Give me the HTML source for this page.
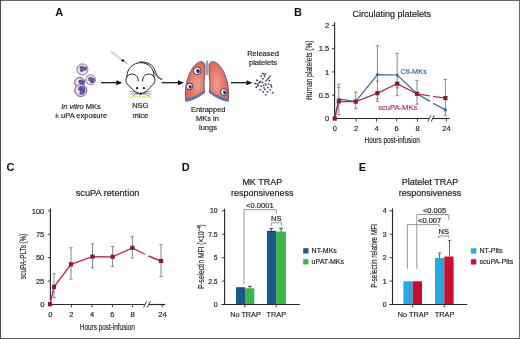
<!DOCTYPE html>
<html><head><meta charset="utf-8">
<style>
html,body{margin:0;padding:0;background:#fff;width:520px;height:339px;overflow:hidden}
svg{display:block;will-change:transform;font-family:"Liberation Sans",sans-serif}
</style></head><body>
<svg width="520" height="339" viewBox="0 0 520 339">
<rect x="0" y="0" width="520" height="339" fill="#fff"/>
<!-- frame -->
<rect x="0" y="0" width="520" height="1" fill="#666"/>
<rect x="0" y="338" width="520" height="1" fill="#555"/>
<rect x="0" y="0" width="1" height="339" fill="#4c4c4c"/>
<rect x="519" y="0" width="1" height="339" fill="#6a6a6a"/>

<!-- panel letters -->
<g font-weight="bold" font-size="11" fill="#111">
<text x="55.2" y="15.5">A</text>
<text x="294" y="15.5">B</text>
<text x="6.6" y="171.1">C</text>
<text x="181.7" y="171">D</text>
<text x="358.7" y="171">E</text>
</g>

<!-- ============ PANEL A ============ -->
<g id="A">
<!-- cells -->
<defs>
<radialGradient id="cg" cx="0.5" cy="0.5" r="0.5">
<stop offset="0" stop-color="#f6f1f8"/><stop offset="0.65" stop-color="#eee5f3"/><stop offset="1" stop-color="#d6c4e2"/>
</radialGradient>
<radialGradient id="lg" cx="0.62" cy="0.55" r="0.55">
<stop offset="0" stop-color="#eea58e"/><stop offset="0.45" stop-color="#ec8272"/><stop offset="1" stop-color="#e6645a"/>
</radialGradient>
<radialGradient id="lg2" cx="0.38" cy="0.55" r="0.55">
<stop offset="0" stop-color="#eea58e"/><stop offset="0.45" stop-color="#ec8272"/><stop offset="1" stop-color="#e6645a"/>
</radialGradient>
</defs>
<g stroke="#5e3f7e" stroke-width="0.6" fill="url(#cg)">
<circle cx="82.4" cy="69.4" r="5.6"/>
<circle cx="90.6" cy="79.8" r="5"/>
<circle cx="79.7" cy="82.4" r="5"/>
<circle cx="80.8" cy="90.4" r="6"/>
</g>
<g fill="#5e4a8e">
<g transform="translate(-0.8 -0.3)"><path d="M80.3 67.6C81.3 65.9 84 65.8 85 67.3C86.5 66.6 88.2 67.9 87.6 69.6C87.1 71.1 85.6 71.2 84.6 70.6C84.1 72.4 82 72.9 81 71.6C80.5 70.8 81.5 69.9 81 69.1C80.1 68.9 80 68.2 80.3 67.6Z"/></g>
<path d="M88.6 77.8C89.6 76.6 91.5 76.7 92.2 77.8C93.6 77.6 95 78.8 94.6 80.4C94.3 82 92.8 83.4 91.2 83.1C90.3 82.9 90.6 81.6 89.8 81.2C88.7 81 88 80.2 88.4 79.2C88.6 78.6 88.3 78.2 88.6 77.8Z"/>
</g>
<circle cx="79.7" cy="82.4" r="5" fill="url(#cg)" stroke="#5e3f7e" stroke-width="0.6"/>
<path d="M78.6 80.6C79.8 79.1 82.3 79.1 83.6 80.4C84.6 81.6 84.2 83.6 82.8 84.4C81.6 85 80.2 84.6 79.6 83.6C79 83.4 78.3 82.6 78.4 81.8C78.4 81.3 78.4 80.9 78.6 80.6Z" fill="#5e4a8e"/>
<circle cx="80.8" cy="90.4" r="6" fill="url(#cg)" stroke="#5e3f7e" stroke-width="0.6"/>
<path d="M80.2 86.2C82 85.6 84.6 86.4 85.2 88.4C85.8 90.6 85 93.2 83 94.4C81.6 95.2 79.6 94.8 79.3 93.6C79 92.6 80.4 92.3 80.2 91.4C79.8 90.3 78.4 90.6 78.2 89.4C78 88 78.8 86.7 80.2 86.2Z" fill="#5e4a8e"/>
<g stroke="#b8a8d6" stroke-width="0.55" fill="none">
<path d="M81.3 87.6C82.4 87.3 83.6 88 83.5 89.4M80.6 91.2C81.6 91.6 82.4 92.4 82.2 93.4"/>
<path d="M81.6 67.9C82.4 68.3 82.8 69.1 82.5 70M84.5 68.1L85.5 69"/>
<path d="M90.4 78.4C91.2 79 91.6 80 91.2 81"/>
<path d="M80.6 81C81.4 81.6 81.8 82.4 81.4 83.3"/>
</g>
<!-- arrows -->
<g stroke="#111" stroke-width="1.25">
<line x1="101" y1="82.7" x2="118" y2="82.7"/>
<line x1="162" y1="82.7" x2="180" y2="82.7"/>
<line x1="231" y1="82.7" x2="248.5" y2="82.7"/>
</g>
<g fill="#111">
<path d="M122.3 82.7 L116.3 80.2 L116.3 85.3z"/>
<path d="M184 82.7 L178 80.2 L178 85.3z"/>
<path d="M252.5 82.7 L246.5 80.2 L246.5 85.3z"/>
</g>
<!-- syringe -->
<line x1="111.6" y1="52" x2="121" y2="59.3" stroke="#d9d9d9" stroke-width="2.4" stroke-linecap="round"/>
<circle cx="122.8" cy="60.5" r="1.35" fill="#111"/>
<line x1="124" y1="61.5" x2="127.3" y2="63.8" stroke="#2c8ea8" stroke-width="0.8"/>
<line x1="127.3" y1="63.8" x2="129.3" y2="65.6" stroke="#9fe0ee" stroke-width="0.8"/>
<!-- mouse -->
<g fill="none" stroke="#1a1a1a" stroke-width="0.95" stroke-linecap="round">
<path d="M126.9 76.6C126.9 68 133.5 62.7 140.8 62.7C148 62.7 154.3 68 154 76.6"/>
<path d="M139.5 62C147 61.3 153 64.4 155.1 70.8C156.5 75.3 158.5 78.2 161.7 79.3"/>
<path d="M153.7 71.2C155.3 75.8 157.4 78.6 161.7 79.3" stroke-width="0.6"/>
<path d="M138.2 81A6.2 6.2 0 1 0 129.4 85.8C131.5 89 134.5 91.5 137.2 92.8L139.4 93.7"/>
<path d="M142.6 81A6.2 6.2 0 1 1 151.4 85.8C149.3 89 146.3 91.5 143.6 92.8L141.4 93.7"/>
</g>
<circle cx="137.1" cy="88.2" r="1.1" fill="#111"/>
<circle cx="143.9" cy="88.2" r="1.1" fill="#111"/>
<ellipse cx="140.6" cy="93.7" rx="1.5" ry="1.1" fill="#111"/>
<g stroke="#222" stroke-width="0.45" fill="none">
<path d="M138.3 92.6Q134 91.4 129.8 91.4M138.3 93.2Q134 93.2 130.2 94M138.6 93.8Q135 94.6 132.4 96"/>
<path d="M142.9 92.6Q147 91.4 151.4 91.4M142.9 93.2Q147 93.2 151.6 94M142.6 93.8Q146 94.6 149.6 96"/>
</g>
<line x1="127.5" y1="96.9" x2="151.5" y2="96.9" stroke="#e9ec8e" stroke-width="1.8" opacity="0.9"/>
<!-- lungs -->
<g stroke="#3e4b68" stroke-width="0.85">
<path d="M205 65C204.3 61.8 201.5 61 198.8 62.2C192.8 65.2 188.3 74.5 186.4 83.5C185.4 89.5 185.2 96 185.7 101.3C192 100.5 199 97 204.8 92.3C204.1 88.5 203.8 84.5 204.3 80.5C204.8 76 205.2 70 205 65Z" fill="url(#lg)"/>
<path d="M209 65C209.7 61.8 212.5 61 215.2 62.2C221.2 65.2 225.7 74.5 227.6 83.5C228.6 89.5 228.8 96 228.3 101.3C222 100.5 215 97 209.2 92.3C209.9 88.5 210.2 84.5 209.7 80.5C209.2 76 208.8 70 209 65Z" fill="url(#lg2)"/>
</g>
<path d="M185.6 98.3C192 97.6 199 94.5 204.5 90.2L204.5 92.3C199 97 192 100.5 185.9 101Z" fill="#5a78b2"/>
<path d="M228.4 98.3C222 97.6 215 94.5 209.5 90.2L209.5 92.3C215 97 222 100.5 228.1 101Z" fill="#5a78b2"/>
<line x1="207" y1="60.5" x2="207" y2="75" stroke="#7d8aa3" stroke-width="1.6"/>
<g stroke="#a39a7a" stroke-width="0.7" fill="none" opacity="0.7">
<path d="M206 75L201 80L196 85M201 80L200 89M203.5 77.5L197 77"/>
<path d="M208 75L213 80L218 85M213 80L214 89M210.5 77.5L217 77"/>
</g>
<g stroke="#2d2550" stroke-width="0.85" fill="#f6f2f8">
<circle cx="197.2" cy="70.9" r="3.8"/>
<circle cx="189.4" cy="86.5" r="3.3"/>
<circle cx="223.9" cy="92.1" r="3.3"/>
</g>
<g fill="#3d2470">
<path d="M196.6 69.6C197.8 68.8 199.6 69.4 199.8 70.8C200 72.4 198.6 73.6 197.3 73.1C196.2 72.7 196.8 71.6 196.2 71C195.8 70.5 196 69.9 196.6 69.6Z"/>
<path d="M189 85.4C190.1 84.8 191.6 85.4 191.7 86.6C191.8 88 190.6 89 189.5 88.5C188.6 88.1 189.2 87.2 188.7 86.7C188.4 86.2 188.5 85.7 189 85.4Z"/>
<path d="M223.5 91C224.6 90.4 226.1 91 226.2 92.2C226.3 93.6 225.1 94.6 224 94.1C223.1 93.7 223.7 92.8 223.2 92.3C222.9 91.8 223 91.3 223.5 91Z"/>
</g>
<!-- released platelets -->
<g fill="#4f465a">
<ellipse cx="263.2" cy="73.7" rx="1.5" ry="0.75" transform="rotate(30 263.2 73.7)"/><ellipse cx="265.3" cy="74.1" rx="0.95" ry="0.85"/><ellipse cx="261.2" cy="76.2" rx="0.95" ry="0.85"/><ellipse cx="264.5" cy="76.2" rx="1.5" ry="0.75" transform="rotate(60 264.5 76.2)"/><ellipse cx="269.8" cy="76.6" rx="1.5" ry="0.75" transform="rotate(-50 269.8 76.6)"/><ellipse cx="262.8" cy="78.7" rx="0.95" ry="0.85"/><ellipse cx="267.8" cy="78.7" rx="1.5" ry="0.75" transform="rotate(-50 267.8 78.7)"/><ellipse cx="257" cy="80.3" rx="1.5" ry="0.75" transform="rotate(20 257 80.3)"/><ellipse cx="260.3" cy="81.6" rx="1.5" ry="0.75" transform="rotate(-40 260.3 81.6)"/><ellipse cx="266.1" cy="80.7" rx="0.95" ry="0.85"/><ellipse cx="269.4" cy="80.7" rx="0.95" ry="0.85"/><ellipse cx="259.1" cy="82.8" rx="1.5" ry="0.75" transform="rotate(-40 259.1 82.8)"/><ellipse cx="262.4" cy="82.4" rx="0.95" ry="0.85"/><ellipse cx="255.4" cy="83.6" rx="1.5" ry="0.75" transform="rotate(30 255.4 83.6)"/><ellipse cx="257.9" cy="84.9" rx="1.5" ry="0.75" transform="rotate(50 257.9 84.9)"/><ellipse cx="256.6" cy="86.9" rx="1.5" ry="0.75" transform="rotate(-40 256.6 86.9)"/><ellipse cx="261.2" cy="86.1" rx="0.95" ry="0.85"/><ellipse cx="263.6" cy="85.3" rx="0.95" ry="0.85"/><ellipse cx="265.7" cy="84.5" rx="1.5" ry="0.75" transform="rotate(60 265.7 84.5)"/><ellipse cx="268.6" cy="84" rx="0.95" ry="0.85"/><ellipse cx="271.1" cy="84.9" rx="0.95" ry="0.85"/><ellipse cx="264" cy="87.8" rx="0.95" ry="0.85"/><ellipse cx="267.8" cy="87.4" rx="0.95" ry="0.85"/><ellipse cx="271.5" cy="86.9" rx="0.95" ry="0.85"/><ellipse cx="260.3" cy="89.8" rx="0.95" ry="0.85"/><ellipse cx="264.9" cy="89.4" rx="0.95" ry="0.85"/><ellipse cx="270.2" cy="89.8" rx="0.95" ry="0.85"/><ellipse cx="263.2" cy="91.9" rx="0.95" ry="0.85"/><ellipse cx="267.4" cy="91.9" rx="0.95" ry="0.85"/><ellipse cx="272.7" cy="92.7" rx="0.95" ry="0.85"/><ellipse cx="265.7" cy="94.8" rx="0.95" ry="0.85"/>
</g>
<!-- A text -->
<g font-size="7.5" fill="#252525" text-anchor="middle" stroke="#252525" stroke-width="0.18">
<text x="81" y="108.6"><tspan font-style="italic">In vitro</tspan> MKs</text>
<text x="81" y="118">± uPA exposure</text>
<text x="140.3" y="108.4">NSG</text>
<text x="140.3" y="117.6">mice</text>
<text x="208.2" y="112">Entrapped</text>
<text x="207.5" y="121.4">MKs in</text>
<text x="208" y="130.3">lungs</text>
<text x="263" y="55.9">Released</text>
<text x="263" y="64.7">platelets</text>
</g>
</g>

<!-- ============ PANEL B ============ -->
<g id="B">
<text x="391.8" y="17" font-size="9" fill="#222" text-anchor="middle" stroke="#222" stroke-width="0.18">Circulating platelets</text>
<g stroke="#2a2a2a" stroke-width="1.15">
<line x1="334.6" y1="22.3" x2="334.6" y2="119"/>
<line x1="334" y1="118.5" x2="429" y2="118.5"/>
<line x1="433" y1="118.5" x2="449.6" y2="118.5"/>
</g>
<g stroke="#2a2a2a" stroke-width="0.9">
<path d="M332 25.4H334.6M332 48.65H334.6M332 71.9H334.6M332 95.15H334.6"/>
<path d="M356.2 118.5V121.4M376.5 118.5V121.4M396.6 118.5V121.4M417.4 118.5V121.4M446.3 118.5V121.4"/>
<path d="M427.8 121.7L430.8 115.4M431.2 121.7L434.2 115.4"/>
</g>
<g font-size="7.5" fill="#252525" text-anchor="end" stroke="#252525" stroke-width="0.18">
<text x="329.2" y="28.1">2</text>
<text x="329.2" y="51.35">1.5</text>
<text x="329.2" y="74.6">1</text>
<text x="329.2" y="97.85">0.5</text>
<text x="329.2" y="121.1">0</text>
</g>
<g font-size="7.5" fill="#252525" text-anchor="middle" stroke="#252525" stroke-width="0.18">
<text x="334.9" y="130.8">0</text>
<text x="356.1" y="130.8">2</text>
<text x="376.5" y="130.8">4</text>
<text x="396.7" y="130.8">6</text>
<text x="417.5" y="130.8">8</text>
<text x="446.5" y="130.8">24</text>
</g>
<text transform="translate(392.2 143.2) scale(0.757 1)" font-size="8.5" fill="#222" text-anchor="middle" stroke="#222" stroke-width="0.15">Hours post-infusion</text>
<text transform="translate(312.3 70.2) rotate(-90) scale(0.756 1)" font-size="8.7" fill="#222" text-anchor="middle" stroke="#222" stroke-width="0.15">Human platelets (%)</text>
<!-- error bars -->
<g stroke="#7c7c7c" stroke-width="0.9">
<path d="M338.8 84.1V114.8M337.1 84.1H340.5M337.1 87.7H340.5M337.1 114.8H340.5"/>
<path d="M355.7 92.2V108.7M354 92.2H357.4M354 108.7H357.4"/>
<path d="M377.4 45.8V101.4M375.7 45.8H379.1M375.7 81.2H379.1M375.7 98.8H379.1M375.7 101.4H379.1"/>
<path d="M397.2 53.4V95.7M395.5 53.4H398.9M395.5 87.8H398.9M395.5 95.7H398.9"/>
<path d="M417 80.4V104.1M415.3 80.4H418.7M415.3 104.1H418.7"/>
<path d="M445.4 79.5V115.3M443.7 79.5H447.1M443.7 115.3H447.1"/>
</g>
<!-- Ctl line -->
<g stroke="#3a6d9c" stroke-width="1.25" fill="none">
<path d="M334.7 118.5L338.8 98.9L355.7 101.6L377.4 74.6L397.2 75L417 93.8L430 101.4M433.1 103.2L445.4 109.9"/>
</g>
<g fill="#3a6d9c">
<circle cx="338.8" cy="98.9" r="1.5"/><circle cx="377.4" cy="74.6" r="1.5"/><circle cx="397.2" cy="75" r="1.5"/><circle cx="445.4" cy="109.9" r="1.6"/>
</g>
<!-- scuPA line -->
<g stroke="#bb2b52" stroke-width="1.3" fill="none">
<path d="M334.7 118.5L338.8 101.3L355.7 101.6L377.4 93.2L397.2 83.7L417 93.8L429.8 95.8M433.1 96.3L445.4 98.1"/>
</g>
<g fill="#861838">
<rect x="332.6" y="116.4" width="4.2" height="4.2"/>
<rect x="336.7" y="99.2" width="4.2" height="4.2"/>
<rect x="353.6" y="99.5" width="4.2" height="4.2"/>
<rect x="375.3" y="91.1" width="4.2" height="4.2"/>
<rect x="395.1" y="81.6" width="4.2" height="4.2"/>
<rect x="414.9" y="91.7" width="4.2" height="4.2"/>
<rect x="443.3" y="96" width="4.2" height="4.2"/>
</g>
<text x="400.6" y="73.8" font-size="7.4" fill="#3a6d9c" stroke="#3a6d9c" stroke-width="0.18">Ctl-MKs</text>
<text x="378.2" y="109.6" font-size="7.6" fill="#c0304f" stroke="#c0304f" stroke-width="0.18">scuPA-MKs</text>
</g>

<!-- ============ PANEL C ============ -->
<g id="C">
<text x="107.6" y="196" font-size="9.2" fill="#222" text-anchor="middle" stroke="#222" stroke-width="0.18">scuPA retention</text>
<g stroke="#2a2a2a" stroke-width="1.15">
<line x1="50.4" y1="208.6" x2="50.4" y2="305"/>
<line x1="50" y1="304.5" x2="144.5" y2="304.5"/>
<line x1="149" y1="304.5" x2="165.3" y2="304.5"/>
</g>
<g stroke="#2a2a2a" stroke-width="0.9">
<path d="M47.8 210.8H50.4M47.8 234.24H50.4M47.8 257.66H50.4M47.8 281.08H50.4"/>
<path d="M71.4 304.5V307.3M92.1 304.5V307.3M112.4 304.5V307.3M132.6 304.5V307.3M162.2 304.5V307.3"/>
<path d="M143.6 307.6L146.6 301.3M147.2 307.6L150.2 301.3"/>
</g>
<g font-size="7.5" fill="#252525" text-anchor="end" stroke="#252525" stroke-width="0.18">
<text x="44.3" y="213.5">100</text>
<text x="44.3" y="236.94">75</text>
<text x="44.3" y="260.36">50</text>
<text x="44.3" y="283.78">25</text>
<text x="44.3" y="307.2">0</text>
</g>
<g font-size="7.5" fill="#252525" text-anchor="middle" stroke="#252525" stroke-width="0.18">
<text x="50.3" y="316.8">0</text>
<text x="71.3" y="316.8">2</text>
<text x="92" y="316.8">4</text>
<text x="112.4" y="316.8">6</text>
<text x="132.6" y="316.8">8</text>
<text x="162.4" y="316.8">24</text>
</g>
<text transform="translate(107.35 329.5) scale(0.753 1)" font-size="8.5" fill="#222" text-anchor="middle" stroke="#222" stroke-width="0.15">Hours post-infusion</text>
<text transform="translate(25.9 256.2) rotate(-90) scale(0.75 1)" font-size="8.5" fill="#222" text-anchor="middle" stroke="#222" stroke-width="0.15">scuPA-PLTs (%)</text>
<g stroke="#7c7c7c" stroke-width="0.9">
<path d="M54 273.8V297.7M52.3 273.8H55.7M52.3 297.7H55.7"/>
<path d="M71 247.8V279.1M69.3 247.8H72.7M69.3 279.1H72.7"/>
<path d="M92.5 243.9V267.8M90.8 243.9H94.2M90.8 267.8H94.2"/>
<path d="M112.6 246.5V266.4M110.9 246.5H114.3M110.9 266.4H114.3"/>
<path d="M132.4 236.8V258M130.7 236.8H134.1M130.7 258H134.1"/>
<path d="M161 244.8V276.6M159.3 244.8H162.7M159.3 276.6H162.7"/>
</g>
<g stroke="#bb2b52" stroke-width="1.35" fill="none">
<path d="M50 304.2L54 286.9L71 264.3L92.5 256.6L112.6 256.8L132.4 247.8"/>
<path d="M132.4 247.8L145.4 254.5M148.4 256L161 261"/>
</g>
<g fill="#861838">
<rect x="47.9" y="302.1" width="4.2" height="4.2"/>
<rect x="51.9" y="284.8" width="4.2" height="4.2"/>
<rect x="68.9" y="262.2" width="4.2" height="4.2"/>
<rect x="90.4" y="254.5" width="4.2" height="4.2"/>
<rect x="110.5" y="254.7" width="4.2" height="4.2"/>
<rect x="130.3" y="245.7" width="4.2" height="4.2"/>
<rect x="158.9" y="258.9" width="4.2" height="4.2"/>
</g>
</g>

<!-- ============ PANEL D ============ -->
<g id="D">
<text x="262.3" y="184.5" font-size="9" fill="#222" text-anchor="middle" stroke="#222" stroke-width="0.18">MK TRAP</text>
<text x="262.3" y="196" font-size="9" fill="#222" text-anchor="middle" stroke="#222" stroke-width="0.18">responsiveness</text>
<!-- bars -->
<rect x="236" y="287.5" width="9" height="17" fill="#1b5791"/>
<rect x="245" y="288.3" width="9.3" height="16.2" fill="#3db54b"/>
<rect x="267" y="231" width="9.1" height="73.5" fill="#1b5791"/>
<rect x="276.1" y="231.6" width="9.8" height="72.9" fill="#3db54b"/>
<g stroke="#333" stroke-width="0.9">
<path d="M271.2 231V228.5M269.4 228.5H273M249.8 288.4V286.3M248 286.3H251.6M281.1 231.6V228.3M279.2 228.3H283"/>
</g>
<path d="M236 287.8H245M267 231.3H276" stroke="#1a3557" stroke-width="0.7"/>
<g stroke="#2a2a2a" stroke-width="1.15">
<line x1="224.6" y1="208.8" x2="224.6" y2="305"/>
<line x1="221.5" y1="304.5" x2="299.8" y2="304.5"/>
</g>
<g stroke="#2a2a2a" stroke-width="0.9">
<path d="M222 210.8H224.6M222 234.24H224.6M222 257.66H224.6M222 281.08H224.6"/>
<path d="M244.8 304.5V307.3M276.2 304.5V307.3"/>
</g>
<g stroke="#8c8c8c" stroke-width="0.9" fill="none">
<path d="M244 284V209.6H276.4V213.5"/>
<path d="M271.4 225.6V222.8H281.5V225.6"/>
</g>
<text x="259.9" y="207.9" font-size="7.6" fill="#252525" text-anchor="middle" stroke="#252525" stroke-width="0.18">&lt;0.0001</text>
<text x="276.2" y="220.8" font-size="7.5" fill="#252525" text-anchor="middle" stroke="#252525" stroke-width="0.18">NS</text>
<g font-size="6.8" fill="#252525" text-anchor="end" stroke="#252525" stroke-width="0.18">
<text x="217.6" y="213.2">10</text>
<text x="217.6" y="236.7">7.5</text>
<text x="217.6" y="260.1">5</text>
<text x="217.6" y="283.5">2.5</text>
<text x="217.6" y="306.9">0</text>
</g>
<g font-size="7.3" fill="#252525" text-anchor="middle" stroke="#252525" stroke-width="0.18">
<text x="245.5" y="317">No TRAP</text>
<text x="276.3" y="317">TRAP</text>
</g>
<text transform="translate(203.6 256.6) rotate(-90) scale(0.8 1)" font-size="8.3" fill="#222" text-anchor="middle" stroke="#222" stroke-width="0.15">P-selectin MFI (×10<tspan font-size="5.5" dy="-3">−4</tspan><tspan dy="3">)</tspan></text>
<rect x="303.2" y="248.2" width="5.3" height="5.3" fill="#1b5791"/>
<rect x="303.2" y="259.2" width="5.3" height="5.3" fill="#3db54b"/>
<g font-size="7" fill="#252525" stroke="#252525" stroke-width="0.18">
<text x="311.6" y="253.3">NT-MKs</text>
<text x="311.6" y="264.3">uPAT-MKs</text>
</g>
</g>

<!-- ============ PANEL E ============ -->
<g id="E">
<text x="430" y="184.5" font-size="9" fill="#222" text-anchor="middle" stroke="#222" stroke-width="0.18">Platelet TRAP</text>
<text x="430" y="196" font-size="9" fill="#222" text-anchor="middle" stroke="#222" stroke-width="0.18">responsiveness</text>
<rect x="403.4" y="281.3" width="9.3" height="23.2" fill="#27a9e1"/>
<rect x="412.7" y="281.3" width="9.3" height="23.2" fill="#c8102e"/>
<rect x="435" y="258" width="9.3" height="46.5" fill="#27a9e1"/>
<rect x="444.3" y="256.5" width="9.3" height="48" fill="#c8102e"/>
<g stroke="#555" stroke-width="0.9">
<path d="M439.6 258V253M437.9 253H441.3"/>
<path d="M449.5 256.5V240.4M447.8 240.4H451.2"/>
</g>
<g stroke="#2a2a2a" stroke-width="1.15">
<line x1="392.5" y1="208.4" x2="392.5" y2="305"/>
<line x1="389.4" y1="304.5" x2="467.2" y2="304.5"/>
</g>
<g stroke="#2a2a2a" stroke-width="0.9">
<path d="M389.6 210.8H392.5M389.6 234.24H392.5M389.6 257.66H392.5M389.6 281.08H392.5"/>
<path d="M412.7 304.5V307.3M444.3 304.5V307.3"/>
</g>
<g stroke="#8c8c8c" stroke-width="0.9" fill="none">
<path d="M407.4 268.9V224.6H439.2V227"/>
<path d="M416.8 268.9V214.5H448.8V219.7"/>
<path d="M438.7 238.2V236H448.8V238.2"/>
</g>
<g font-size="7.5" fill="#252525" text-anchor="middle" stroke="#252525" stroke-width="0.18">
<text x="434.5" y="213.3">&lt;0.005</text>
<text x="429.6" y="222.8">&lt;0.007</text>
<text x="443.8" y="233.8">NS</text>
</g>
<g font-size="6.8" fill="#252525" text-anchor="end" stroke="#252525" stroke-width="0.18">
<text x="386.6" y="213.2">4</text>
<text x="386.6" y="236.7">3</text>
<text x="386.6" y="260.1">2</text>
<text x="386.6" y="283.5">1</text>
<text x="386.6" y="306.9">0</text>
</g>
<g font-size="7.3" fill="#252525" text-anchor="middle" stroke="#252525" stroke-width="0.18">
<text x="413.2" y="317">No TRAP</text>
<text x="444.6" y="317">TRAP</text>
</g>
<text transform="translate(376.5 255.9) rotate(-90) scale(0.735 1)" font-size="8.8" fill="#222" text-anchor="middle" stroke="#222" stroke-width="0.15">P-selectin relative MFI</text>
<rect x="470.9" y="248.3" width="5.4" height="5.3" fill="#27a9e1"/>
<rect x="470.9" y="259.2" width="5.4" height="5.3" fill="#c8102e"/>
<g font-size="7" fill="#252525" stroke="#252525" stroke-width="0.18">
<text x="479.5" y="253.3">NT-Plts</text>
<text x="479.5" y="264.3">scuPA-Plts</text>
</g>
</g>
</svg>
</body></html>
